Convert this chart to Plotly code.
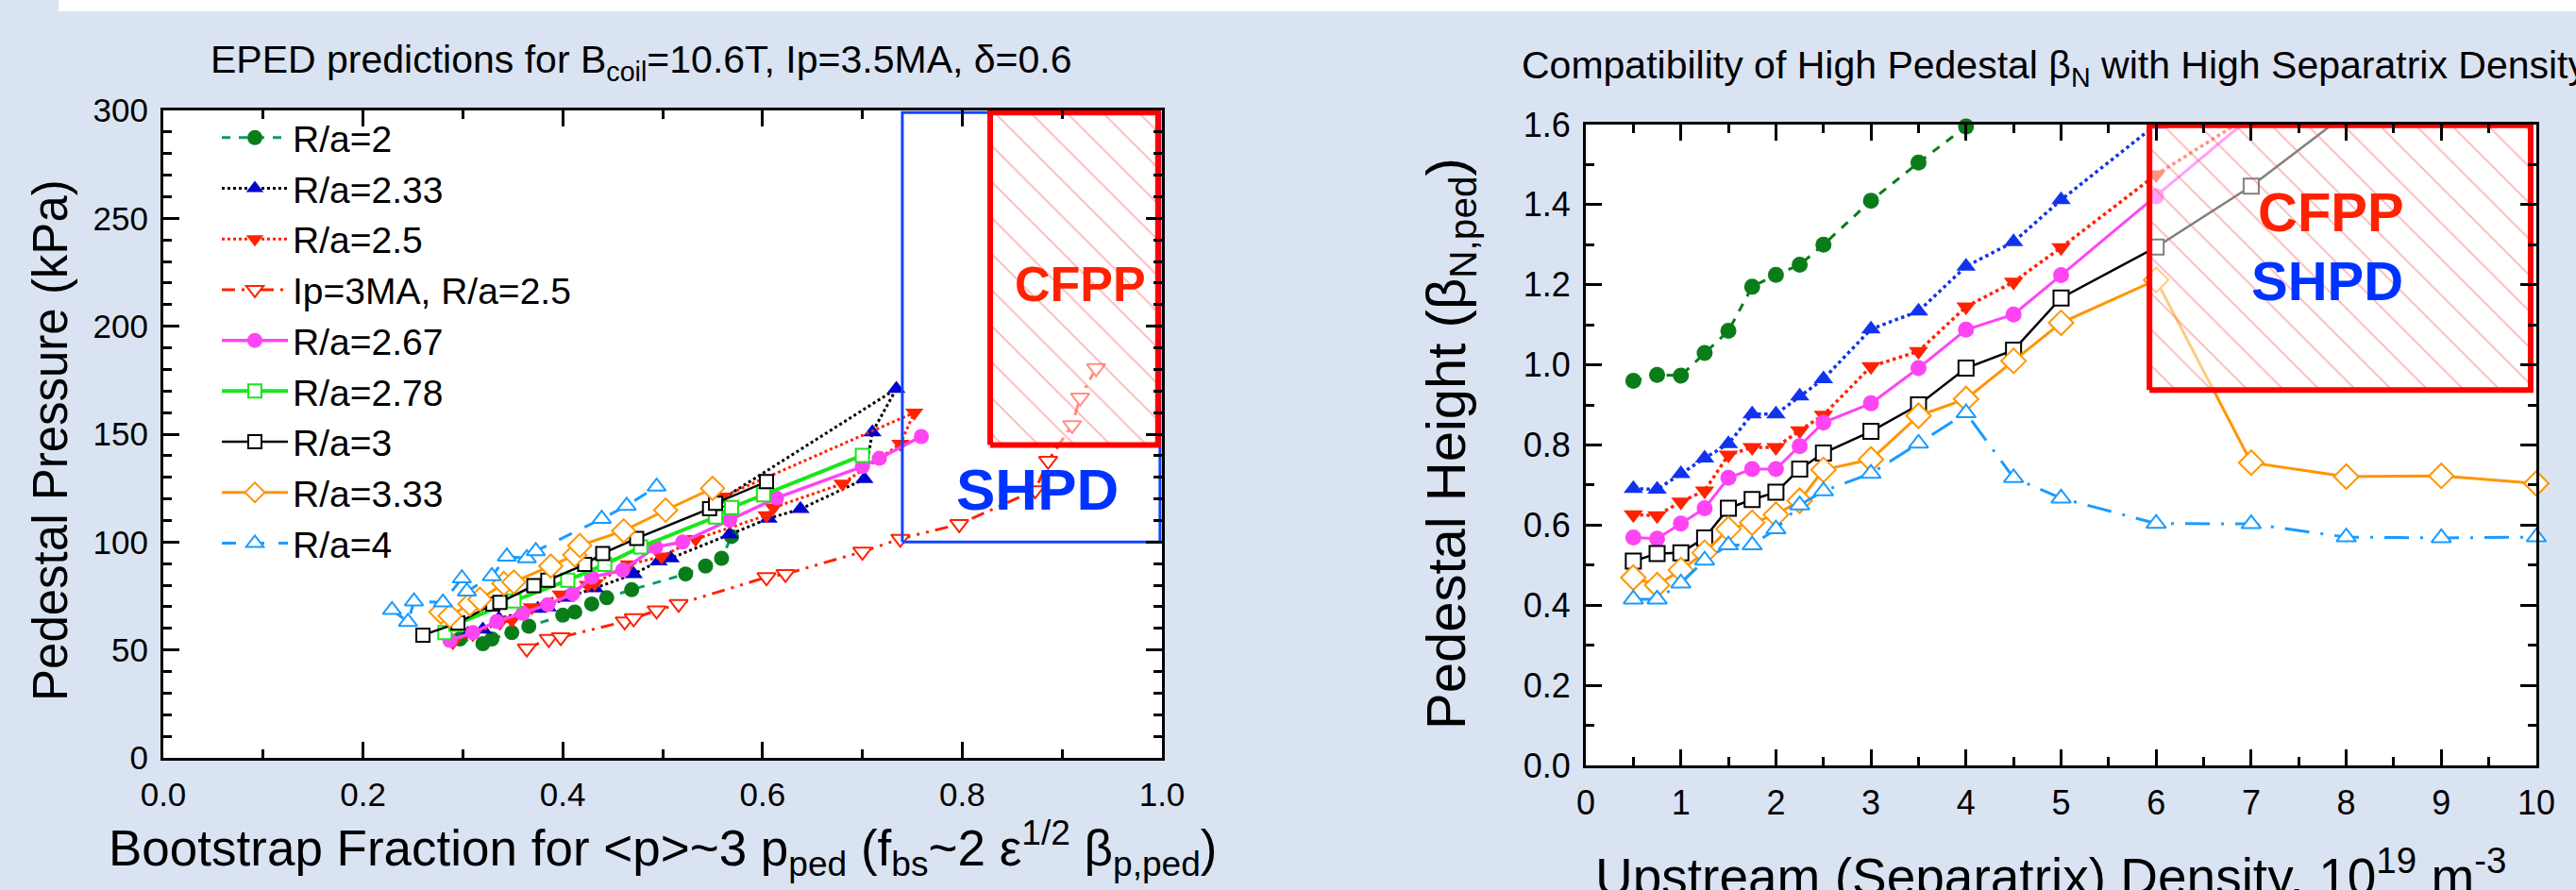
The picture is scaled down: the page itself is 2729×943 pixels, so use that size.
import plotly.graph_objects as go

# ---------------- Left panel: bootstrap fraction vs pedestal pressure (kPa)
ra2_x = [0.297, 0.320, 0.329, 0.349, 0.366, 0.400, 0.412, 0.429, 0.444, 0.469, 0.523, 0.543, 0.559, 0.569]
ra2_y = [55.1, 52.9, 55.1, 58.0, 61.0, 66.1, 67.6, 71.3, 74.2, 77.9, 85.2, 88.9, 92.5, 102.6]

ra233_x = [0.305, 0.320, 0.336, 0.375, 0.385, 0.403, 0.432, 0.471, 0.496, 0.508, 0.567, 0.606, 0.638, 0.702, 0.710, 0.734, 0.553]
ra233_y = [57.5, 59.5, 64.5, 69.1, 69.8, 74.2, 78.6, 85.2, 91.1, 92.5, 103.5, 110.9, 115.3, 129.2, 150.9, 171.0, 118.0]

ra25_x = [0.290, 0.310, 0.337, 0.349, 0.369, 0.398, 0.425, 0.432, 0.466, 0.499, 0.533, 0.604, 0.611, 0.680, 0.738, 0.752, 0.560]
ra25_y = [53.6, 57.3, 62.5, 63.9, 69.8, 75.7, 80.1, 80.8, 89.6, 93.3, 101.3, 112.4, 116.0, 127.0, 145.5, 160.0, 121.0]

ip3_x = [0.364, 0.386, 0.398, 0.462, 0.471, 0.494, 0.516, 0.604, 0.623, 0.700, 0.738, 0.797, 0.873, 0.886, 0.910, 0.918, 0.934]
ip3_y = [50.7, 55.1, 55.9, 63.2, 64.7, 68.3, 71.3, 83.7, 85.2, 95.5, 101.5, 108.3, 124.0, 137.6, 154.2, 166.9, 180.6]

ra267_x = [0.287, 0.310, 0.334, 0.360, 0.385, 0.410, 0.429, 0.460, 0.493, 0.520, 0.567, 0.614, 0.700, 0.717, 0.759]
ra267_y = [54.4, 58.0, 63.2, 67.0, 71.0, 76.0, 83.7, 87.0, 97.7, 100.0, 110.2, 120.4, 135.0, 138.8, 148.9]

ra278_x = [0.282, 0.293, 0.351, 0.405, 0.442, 0.478, 0.553, 0.569, 0.601, 0.700]
ra278_y = [58.1, 61.9, 72.7, 82.3, 89.6, 97.7, 111.6, 116.0, 121.9, 140.2]

ra3_x = [0.260, 0.295, 0.330, 0.337, 0.371, 0.385, 0.422, 0.440, 0.474, 0.547, 0.553, 0.604]
ra3_y = [56.9, 62.5, 71.3, 72.0, 79.8, 82.3, 89.6, 94.7, 101.7, 115.5, 118.0, 128.0]

ra333_x = [0.278, 0.287, 0.307, 0.317, 0.341, 0.351, 0.388, 0.412, 0.417, 0.461, 0.503, 0.550]
ra333_y = [67.6, 65.8, 71.3, 73.5, 80.8, 81.5, 88.9, 94.0, 98.4, 105.2, 114.8, 124.9]

ra4_x = [0.229, 0.245, 0.251, 0.280, 0.299, 0.304, 0.329, 0.344, 0.364, 0.373, 0.439, 0.464, 0.494]
ra4_y = [68.5, 63.0, 72.5, 72.0, 83.2, 77.1, 84.2, 93.3, 92.5, 95.8, 110.8, 116.8, 125.7]

# ---------------- Right panel: upstream density vs pedestal beta_N
dens_a = [0.5, 0.75, 1, 1.25, 1.5, 1.75, 2, 2.25, 2.5, 3, 3.5, 4]
bn_ra2 = [0.96, 0.975, 0.973, 1.03, 1.085, 1.195, 1.225, 1.25, 1.30, 1.41, 1.505, 1.595]

dens_b = [0.5, 0.75, 1, 1.25, 1.5, 1.75, 2, 2.25, 2.5, 3, 3.5, 4, 4.5, 5, 6]
bn_ra233 = [0.691, 0.689, 0.728, 0.767, 0.803, 0.877, 0.877, 0.922, 0.965, 1.089, 1.134, 1.246, 1.307, 1.412, 1.60]

dens_c = [0.5, 0.75, 1, 1.25, 1.5, 1.75, 2, 2.25, 2.5, 3, 3.5, 4, 4.5, 5, 6, 7]
bn_ra25 = [0.626, 0.624, 0.658, 0.686, 0.775, 0.794, 0.794, 0.836, 0.875, 0.996, 1.034, 1.145, 1.207, 1.293, 1.475, 1.624]
bn_ra267 = [0.569, 0.566, 0.604, 0.642, 0.718, 0.740, 0.740, 0.797, 0.856, 0.904, 0.992, 1.088, 1.126, 1.224, 1.421, 1.62]

dens_d = [0.5, 0.75, 1, 1.25, 1.5, 1.75, 2, 2.25, 2.5, 3, 3.5, 4, 4.5, 5, 6, 7, 8]
bn_ra3 = [0.510, 0.529, 0.531, 0.568, 0.642, 0.664, 0.682, 0.740, 0.780, 0.834, 0.900, 0.992, 1.037, 1.167, 1.294, 1.446, 1.627]

dens_e = [0.5, 0.75, 1, 1.25, 1.5, 1.75, 2, 2.25, 2.5, 3, 3.5, 4, 4.5, 5, 6, 7, 8, 9, 10]
bn_ra333 = [0.469, 0.450, 0.488, 0.531, 0.590, 0.606, 0.626, 0.661, 0.738, 0.764, 0.873, 0.915, 1.010, 1.105, 1.212, 0.756, 0.721, 0.723, 0.704]
bn_ra4 = [0.415, 0.415, 0.455, 0.512, 0.550, 0.550, 0.590, 0.650, 0.685, 0.729, 0.804, 0.880, 0.718, 0.667, 0.604, 0.603, 0.570, 0.568, 0.570]

# ---------------- Target regions
cfpp_left_x = [0.828, 0.996]
cfpp_left_y = [145, 299]
shpd_left_x = [0.740, 0.998]
shpd_left_y = [100, 299]
box_right_x = [5.93, 9.94]
box_right_y = [0.937, 1.598]

FONT = "Liberation Sans, Arial, Helvetica, sans-serif"
BG = "#dae3f2"

fig = go.Figure()


def add(xs, ys, name, color, symbol, size, dash, lw, lcolor=None, fill=None,
        xa="x", ya="y", legend=True, clip=True):
    fig.add_trace(go.Scatter(
        x=xs, y=ys, name=name, mode="lines+markers", xaxis=xa, yaxis=ya,
        line=dict(color=lcolor or color, width=lw, dash=dash),
        marker=dict(symbol=symbol, size=size, color=fill or color,
                    line=dict(color=color, width=2 if fill else 0)),
        showlegend=legend, cliponaxis=clip, hoverinfo="skip"))


GREEN_D = "#0a7d1a"
GREEN_L = "#11996a"
BLUE_D = "#0000cc"
RED = "#ff2200"
MAG = "#ff44f4"
LIME = "#19e619"
ORANGE = "#ff9500"
LBLUE = "#1a9bff"
DASHDOT2 = "14px,7px,3px,7px,3px,7px"
LONGDD = "26px,12px,3px,12px"

# left panel
add(ra2_x, ra2_y, "R/a=2", GREEN_D, "circle", 16, "dash", 3, lcolor=GREEN_L)
add(ra233_x, ra233_y, "R/a=2.33", BLUE_D, "triangle-up", 17, "dot", 3, lcolor="black")
add(ra25_x, ra25_y, "R/a=2.5", RED, "triangle-down", 17, "dot", 3)
add(ip3_x, ip3_y, "Ip=3MA, R/a=2.5", RED, "triangle-down", 17, DASHDOT2, 3, fill="white")
add(ra267_x, ra267_y, "R/a=2.67", MAG, "circle", 16, "solid", 3.5)
add(ra278_x, ra278_y, "R/a=2.78", LIME, "square", 14, "solid", 4, fill="white")
add(ra3_x, ra3_y, "R/a=3", "black", "square", 14, "solid", 2.5, fill="white")
add(ra333_x, ra333_y, "R/a=3.33", ORANGE, "diamond", 19, "solid", 3, fill="white")
add(ra4_x, ra4_y, "R/a=4", LBLUE, "triangle-up", 17, "longdash", 3, fill="white")

# right panel
add(dens_a, bn_ra2, "R/a=2", GREEN_D, "circle", 17, "dash", 3, lcolor=GREEN_D, xa="x2", ya="y2", legend=False, clip=False)
add(dens_b, bn_ra233, "R/a=2.33", "#1133ee", "triangle-up", 18, "dot", 3.5, xa="x2", ya="y2", legend=False)
add(dens_c, bn_ra25, "R/a=2.5", RED, "triangle-down", 18, "dot", 3.5, xa="x2", ya="y2", legend=False)
add(dens_c, bn_ra267, "R/a=2.67", MAG, "circle", 17, "solid", 3, xa="x2", ya="y2", legend=False)
add(dens_d, bn_ra3, "R/a=3", "black", "square", 16, "solid", 2.5, fill="white", xa="x2", ya="y2", legend=False)
add(dens_e, bn_ra333, "R/a=3.33", ORANGE, "diamond", 20, "solid", 3, fill="white", xa="x2", ya="y2", legend=False, clip=False)
add(dens_e, bn_ra4, "R/a=4", LBLUE, "triangle-up", 18, LONGDD, 3, fill="white", xa="x2", ya="y2", legend=False, clip=False)


def box(xr, yr, xa, ya, color, width, hatch):
    xs = [xr[0], xr[1], xr[1], xr[0], xr[0]]
    ys = [yr[0], yr[0], yr[1], yr[1], yr[0]]
    kw = {}
    if hatch:
        kw = dict(fill="toself", fillcolor="rgba(255,255,255,0.5)",
                  fillpattern=dict(shape="\\", size=27, solidity=0.07,
                                   fgcolor="rgba(255,70,70,0.8)",
                                   bgcolor="rgba(255,255,255,0.5)", fillmode="overlay"))
    fig.add_trace(go.Scatter(x=xs, y=ys, mode="lines", xaxis=xa, yaxis=ya,
                             line=dict(color=color, width=width), showlegend=False,
                             hoverinfo="skip", **kw))


box(shpd_left_x, shpd_left_y, "x", "y", "#1144ff", 3, False)
box(cfpp_left_x, cfpp_left_y, "x", "y", "#ff0000", 6, True)
box(box_right_x, box_right_y, "x2", "y2", "#ff0000", 6, True)

W, H = 2729, 943


def px(v):
    return v / W


def py(v):
    return 1 - v / H


tick_common = dict(showline=True, linecolor="black", linewidth=3, mirror="allticks",
                   ticks="inside", ticklen=17, tickwidth=3, tickcolor="black",
                   showgrid=False, zeroline=False, ticklabelstandoff=6, automargin=False)

fig.update_layout(
    width=W, height=H, margin=dict(l=0, r=0, t=0, b=0, pad=0, autoexpand=False),
    paper_bgcolor=BG, plot_bgcolor="white",
    font=dict(family=FONT, color="black"),
    xaxis=dict(domain=[px(173), px(1231)], range=[0, 1], tick0=0, dtick=0.2, tickformat=".1f",
               tickfont=dict(size=35), anchor="y",
               minor=dict(ticks="inside", ticklen=9, tickwidth=3, tickcolor="black", dtick=0.1, showgrid=False),
               **tick_common),
    yaxis=dict(domain=[py(803), py(117)], range=[0, 300], tick0=0, dtick=50,
               tickfont=dict(size=35), anchor="x",
               minor=dict(ticks="inside", ticklen=9, tickwidth=3, tickcolor="black", dtick=10, showgrid=False),
               **tick_common),
    xaxis2=dict(domain=[px(1680), px(2687)], range=[0, 10], tick0=0, dtick=1,
                tickfont=dict(size=36), anchor="y2",
                minor=dict(ticks="inside", ticklen=9, tickwidth=3, tickcolor="black", dtick=0.5, showgrid=False),
                **tick_common),
    yaxis2=dict(domain=[py(811), py(132)], range=[0, 1.6], tick0=0, dtick=0.2, tickformat=".1f",
                tickfont=dict(size=36), anchor="x2",
                minor=dict(ticks="inside", ticklen=9, tickwidth=3, tickcolor="black", dtick=0.1, showgrid=False),
                **tick_common),
    legend=dict(x=px(230), y=py(114), xanchor="left", yanchor="top",
                bgcolor="rgba(0,0,0,0)", borderwidth=0, itemwidth=70,
                font=dict(size=39, family=FONT, color="black"), tracegroupgap=0),
    shapes=[dict(type="rect", xref="paper", yref="paper", x0=px(62), x1=1, y0=py(12), y1=1,
                 fillcolor="white", line=dict(width=0), layer="below")],
)

ann = []
ann.append(dict(text="EPED predictions for B<sub>coil</sub>=10.6T, Ip=3.5MA, δ=0.6",
                x=px(679), y=py(66), xref="paper", yref="paper", showarrow=False,
                xanchor="center", yanchor="middle", font=dict(size=41)))
ann.append(dict(text="Compatibility of High Pedestal β<sub>N</sub> with High Separatrix Density",
                x=px(1610), y=py(72), xref="paper", yref="paper", showarrow=False,
                xanchor="left", yanchor="middle", font=dict(size=41)))
ann.append(dict(text="Bootstrap Fraction for &lt;p&gt;~3 p<sub>ped</sub> (f<sub>bs</sub>~2 ε<sup>1/2</sup> β<sub>p,ped</sub>)",
                x=px(702), y=py(898), xref="paper", yref="paper", showarrow=False,
                xanchor="center", yanchor="middle", font=dict(size=53)))
ann.append(dict(text="Upstream (Separatrix) Density, 10<sup>19</sup> m<sup>-3</sup>",
                x=px(2172), y=py(925), xref="paper", yref="paper", showarrow=False,
                xanchor="center", yanchor="middle", font=dict(size=55)))
ann.append(dict(text="Pedestal Pressure (kPa)", textangle=-90,
                x=px(54), y=py(467), xref="paper", yref="paper", showarrow=False,
                xanchor="center", yanchor="middle", font=dict(size=51)))
ann.append(dict(text="Pedestal Height (β<sub>N,ped</sub>)", textangle=-90,
                x=px(1536), y=py(470), xref="paper", yref="paper", showarrow=False,
                xanchor="center", yanchor="middle", font=dict(size=58)))
# region labels
ann.append(dict(text="<b>CFPP</b>", x=0.918, y=219.7, xref="x", yref="y", showarrow=False,
                font=dict(size=52, color="#ff2200")))
ann.append(dict(text="<b>SHPD</b>", x=0.875, y=124.5, xref="x", yref="y", showarrow=False,
                font=dict(size=62, color="#0033ff")))
ann.append(dict(text="<b>CFPP</b>", x=7.84, y=1.383, xref="x2", yref="y2", showarrow=False,
                font=dict(size=58, color="#ff2200")))
ann.append(dict(text="<b>SHPD</b>", x=7.80, y=1.209, xref="x2", yref="y2", showarrow=False,
                font=dict(size=58, color="#0033ff")))
fig.update_layout(annotations=ann)

fig.write_html("out.html", config={"displayModeBar": False},
               post_script="document.body.style.margin='0';")
